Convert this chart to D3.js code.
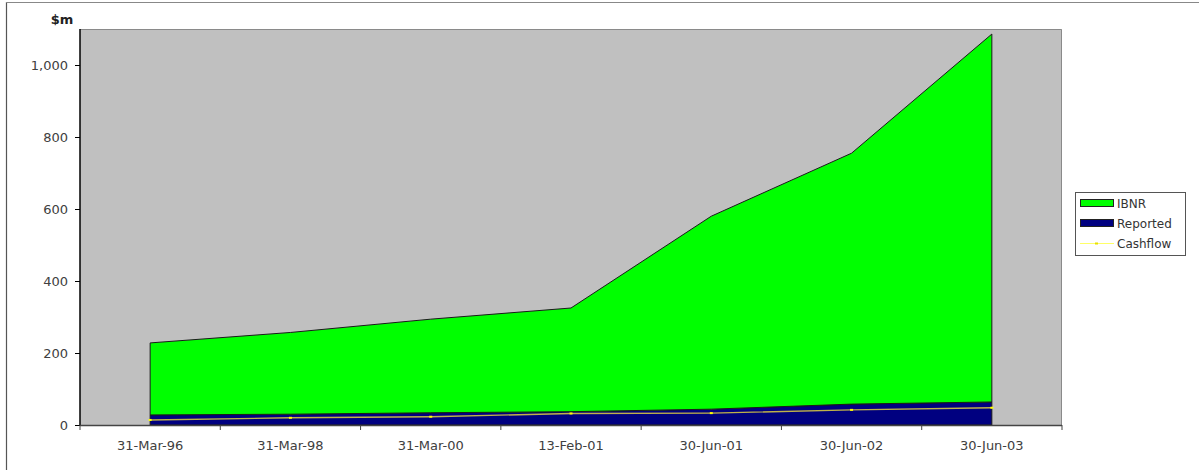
<!DOCTYPE html>
<html>
<head>
<meta charset="utf-8">
<script src="https://cdn.jsdelivr.net/npm/d3@7"></script>
<style>
  html, body { margin: 0; padding: 0; background: #ffffff; }
  svg { display: block; }
  text { font-family: "DejaVu Sans", "Liberation Sans", Arial, sans-serif; }
</style>
</head>
<body>
<svg id="chart" width="1199" height="470"></svg>
<script>
// Balance dates (category axis)
const categories = ["31-Mar-96", "31-Mar-98", "31-Mar-00", "13-Feb-01", "30-Jun-01", "30-Jun-02", "30-Jun-03"];
// Claims estimates, $m
const reported = [28, 30, 34, 37, 44, 58, 64];
const ibnr     = [200, 227, 260, 288, 536, 697, 1022];
const cashflow = [14, 20, 23, 32, 33, 42, 48];
// Value axis ticks
const yTicks = [0, 200, 400, 600, 800, 1000];
const yMax = 1100;

const svg = d3.select("#chart");
const W = 1199, H = 470;
const plot = { left: 80, right: 1062, top: 29, bottom: 425 };

svg.append("rect").attr("width", W).attr("height", H).attr("fill", "#ffffff");

// outer frame (left and top edges)
svg.append("line").attr("x1", 6.5).attr("x2", 6.5).attr("y1", 2).attr("y2", H)
  .attr("stroke", "#555").attr("stroke-width", 1.2);
svg.append("line").attr("x1", 6).attr("x2", W).attr("y1", 2.5).attr("y2", 2.5)
  .attr("stroke", "#888").attr("stroke-width", 1);

const x = d3.scaleBand().domain(categories).range([plot.left, plot.right]).paddingInner(0).paddingOuter(0);
const cx = c => x(c) + x.bandwidth() / 2;
const y = d3.scaleLinear().domain([0, yMax]).range([plot.bottom, plot.top]);

// plot area background
svg.append("rect")
  .attr("x", plot.left).attr("y", y(yMax))
  .attr("width", plot.right - plot.left).attr("height", plot.bottom - y(yMax))
  .attr("fill", "#c0c0c0");
svg.append("path")
  .attr("d", `M${plot.left},${y(yMax) + 0.5}H${plot.right - 0.5}V${plot.bottom}`)
  .attr("fill", "none").attr("stroke", "#8a8a8a").attr("stroke-width", 1);

// stacked areas: Reported at the base, IBNR on top
const rows = categories.map((c, i) => ({ cat: c, Reported: reported[i], IBNR: ibnr[i] }));
const stack = d3.stack().keys(["Reported", "IBNR"]);
const series = stack(rows);
const colors = { Reported: "#000080", IBNR: "#00ff00" };

const area = d3.area()
  .x(d => cx(d.data.cat))
  .y0(d => y(d[0]))
  .y1(d => y(d[1]));

svg.append("g").selectAll("path")
  .data(series)
  .join("path")
  .attr("d", area)
  .attr("fill", d => colors[d.key])
  .attr("stroke", "#1a1a1a")
  .attr("stroke-width", 1)
  .attr("stroke-linejoin", "round");

// cashflow line with small markers
const line = d3.line().x((d, i) => cx(categories[i])).y(d => y(d));
svg.append("path")
  .datum(cashflow)
  .attr("d", line)
  .attr("fill", "none")
  .attr("stroke", "#bfb248")
  .attr("stroke-width", 1.4);
svg.append("g").selectAll("rect")
  .data(cashflow)
  .join("rect")
  .attr("x", (d, i) => cx(categories[i]) - 1.5)
  .attr("y", d => y(d) - 1)
  .attr("width", 3).attr("height", 2)
  .attr("fill", "#ffff00");

// value axis
const yAxis = d3.axisLeft(y).tickValues(yTicks).tickSize(5).tickPadding(7)
  .tickFormat(d3.format(","));
const gy = svg.append("g").attr("transform", `translate(${plot.left},0)`).call(yAxis);
gy.select(".domain").attr("stroke", "#000").attr("stroke-width", 1.5)
  .attr("d", `M0,${plot.bottom}V${y(yMax)}`);
gy.selectAll(".tick line").attr("stroke", "#000");
gy.selectAll(".tick text").attr("font-size", 13).attr("fill", "#404040")
  .attr("font-family", "DejaVu Sans, sans-serif");

// category axis: ticks between categories, labels centred in each band
const gx = svg.append("g").attr("transform", `translate(0,${plot.bottom})`);
gx.append("line").attr("x1", plot.left).attr("x2", plot.right)
  .attr("y1", 0.5).attr("y2", 0.5).attr("stroke", "#444").attr("stroke-width", 1.5);
const bounds = categories.map(c => x(c)).concat([plot.right]);
gx.selectAll(".tk").data(bounds).join("line")
  .attr("x1", d => d).attr("x2", d => d).attr("y1", 0).attr("y2", 5)
  .attr("stroke", "#444").attr("stroke-width", 1);
gx.selectAll(".lbl").data(categories).join("text")
  .attr("x", d => cx(d)).attr("y", 25)
  .attr("text-anchor", "middle")
  .attr("font-size", 13).attr("fill", "#404040")
  .text(d => d);

// unit label
svg.append("text").attr("x", 62).attr("y", 24).attr("text-anchor", "middle")
  .attr("font-size", 13).attr("font-weight", "bold").attr("fill", "#222").text("$m");

// legend
const lg = svg.append("g").attr("transform", "translate(1075,192)");
lg.append("rect").attr("x", 0.5).attr("y", 0.5).attr("width", 110).attr("height", 63)
  .attr("fill", "#ffffff").attr("stroke", "#555").attr("stroke-width", 1);
const items = [
  { name: "IBNR", type: "area", color: colors.IBNR },
  { name: "Reported", type: "area", color: colors.Reported },
  { name: "Cashflow", type: "line", color: "#ffff66" }
];
items.forEach((it, i) => {
  const cy = 11 + i * 20;
  if (it.type === "area") {
    lg.append("rect").attr("x", 5.5).attr("y", cy - 3.5).attr("width", 33).attr("height", 7)
      .attr("fill", it.color).attr("stroke", "#222").attr("stroke-width", 1);
  } else {
    lg.append("line").attr("x1", 5).attr("x2", 39).attr("y1", cy + 0.5).attr("y2", cy + 0.5)
      .attr("stroke", it.color).attr("stroke-width", 1);
    lg.append("rect").attr("x", 20).attr("y", cy - 0.5).attr("width", 3).attr("height", 2)
      .attr("fill", "#e8e000");
  }
  lg.append("text").attr("x", 42).attr("y", cy + 4.5)
    .attr("font-size", 12).attr("fill", "#333").text(it.name);
});
</script>
</body>
</html>
